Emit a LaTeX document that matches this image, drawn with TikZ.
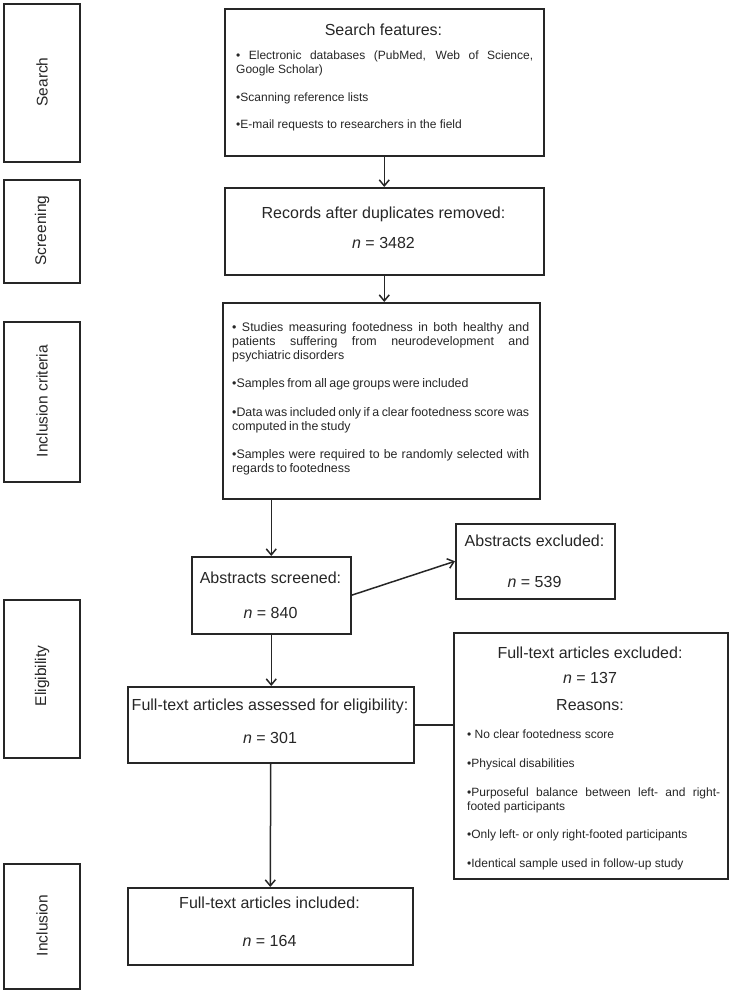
\documentclass[tikz,border=0pt]{standalone}
\usepackage{fontspec}
\setmainfont{Liberation Sans}
\usetikzlibrary{arrows.meta}
\definecolor{ink}{RGB}{38,38,38}
\newcommand{\critfont}{\fontsize{12.4}{14}\selectfont\spaceskip=0.2em plus 0.6em minus 0.03em\relax}
\newcommand{\tp}{\rule{0pt}{9pt}}
\begin{document}
\begin{tikzpicture}[x=1pt,y=-1pt,
  box/.style={draw=ink, line width=1.5pt, inner sep=0pt, anchor=north west},
  head/.style={font=\fontsize{16}{19}\selectfont, text=ink, anchor=base, inner sep=0pt},
  stage/.style={font=\fontsize{15.5}{18}\selectfont, text=ink, rotate=90, inner sep=0pt},
  bul/.style={font=\fontsize{12}{13.5}\selectfont, text=ink, anchor=north west, inner sep=0pt, align=justify},
  bulc/.style={font=\critfont, text=ink, anchor=north west, inner sep=0pt, align=justify},
  arr/.style={draw=ink, line width=1.5pt, -{Straight Barb[length=6pt,width=10pt]}},
  link/.style={draw=ink, line width=1.5pt}]
\useasboundingbox (0,0) rectangle (730,991);
% stage boxes
\node[box, minimum width=76, minimum height=158] (sSearch) at (3,3) {};
\node[stage] (lSearch) at (42,82) {Search};
\node[box, minimum width=76, minimum height=103] (sScreen) at (3,179) {};
\node[stage] (lScreen) at (42,230.5) {Screening};
\node[box, minimum width=76, minimum height=160] (sCrit) at (3,321) {};
\node[stage] (lCrit) at (42,401) {Inclusion criteria};
\node[box, minimum width=76, minimum height=158] (sElig) at (3,599) {};
\node[stage] (lElig) at (42,676) {Eligibility};
\node[box, minimum width=76, minimum height=125] (sIncl) at (3,863) {};
\node[stage] (lIncl) at (42,925.5) {Inclusion};
% search features
\node[box, minimum width=319, minimum height=147] (search) at (224,8) {};
\node[head] (tSearch) at (383.5,35.7) {Search features:};
\node[bul, text width=297] (b1) at (236,50.3) {\tp• Electronic databases (PubMed, Web of Science,\linebreak Google Scholar)};
\node[bul, text width=297] (b2) at (236,92.3) {\tp•Scanning reference lists};
\node[bul, text width=297] (b3) at (236,119.3) {\tp•E-mail requests to researchers in the field};
% records
\node[box, minimum width=319, minimum height=87] (records) at (224,187) {};
\node[head] (tRec1) at (383.5,218.7) {Records after duplicates removed:};
\node[head] (tRec2) at (383.5,248.7) {\textit{n} = 3482};
% criteria
\node[box, minimum width=317, minimum height=196] (crit) at (222,302) {};
\node[bulc, text width=297] (c1) at (232,322) {\tp• Studies measuring footedness in both healthy and\linebreak patients suffering from neurodevelopment and\linebreak psychiatric disorders};
\node[bulc, text width=297] (c2) at (232,378) {\tp•Samples from all age groups were included};
\node[bulc, text width=297] (c3) at (232,407) {\tp•Data was included only if a clear footedness score was\linebreak computed in the study};
\node[bulc, text width=297] (c4) at (232,449) {\tp•Samples were required to be randomly selected with\linebreak regards to footedness};
% abstracts screened
\node[box, minimum width=159, minimum height=77] (scr) at (191,556) {};
\node[head] (tScr1) at (270.5,583.7) {Abstracts screened:};
\node[head] (tScr2) at (270.5,618.7) {\textit{n} = 840};
% abstracts excluded
\node[box, minimum width=159, minimum height=75] (aexc) at (455,523) {};
\node[head] (tAex1) at (534.5,546.7) {Abstracts excluded:};
\node[head] (tAex2) at (534.5,587.7) {\textit{n} = 539};
% full-text assessed
\node[box, minimum width=286, minimum height=76] (assess) at (127,686) {};
\node[head] (tAss1) at (270,710.7) {Full-text articles assessed for eligibility:};
\node[head] (tAss2) at (270,743.7) {\textit{n} = 301};
% full-text excluded
\node[box, minimum width=274, minimum height=246] (fexc) at (453,632) {};
\node[head] (tFex1) at (590,658.7) {Full-text articles excluded:};
\node[head] (tFex2) at (590,683.7) {\textit{n} = 137};
\node[head] (tFex3) at (590,710.7) {Reasons:};
\node[bul, text width=253] (r1) at (467,729.3) {\tp• No clear footedness score};
\node[bul, text width=253] (r2) at (467,758.3) {\tp•Physical disabilities};
\node[bul, text width=253] (r3) at (467,787.3) {\tp•Purposeful balance between left- and right-\linebreak footed participants};
\node[bul, text width=253] (r4) at (467,829.3) {\tp•Only left- or only right-footed participants};
\node[bul, text width=253] (r5) at (467,858.3) {\tp•Identical sample used in follow-up study};
% full-text included
\node[box, minimum width=285, minimum height=77] (incl) at (127,887) {};
\node[head] (tInc1) at (269.5,908.7) {Full-text articles included:};
\node[head] (tInc2) at (269.5,946.7) {\textit{n} = 164};
% connectors
\draw[arr] (search.south) -- (records.north);
\draw[arr] (records.south) -- (records.south |- crit.north);
\draw[arr] (scr.north |- crit.south) -- (scr.north);
\draw[arr] (scr.east) -- (aexc.west);
\draw[arr] (scr.south) -- (scr.south |- assess.north);
\draw[link] (assess.east) -- (fexc.west |- assess.east);
\draw[arr] (assess.south) -- (incl.north);
\end{tikzpicture}
\end{document}
